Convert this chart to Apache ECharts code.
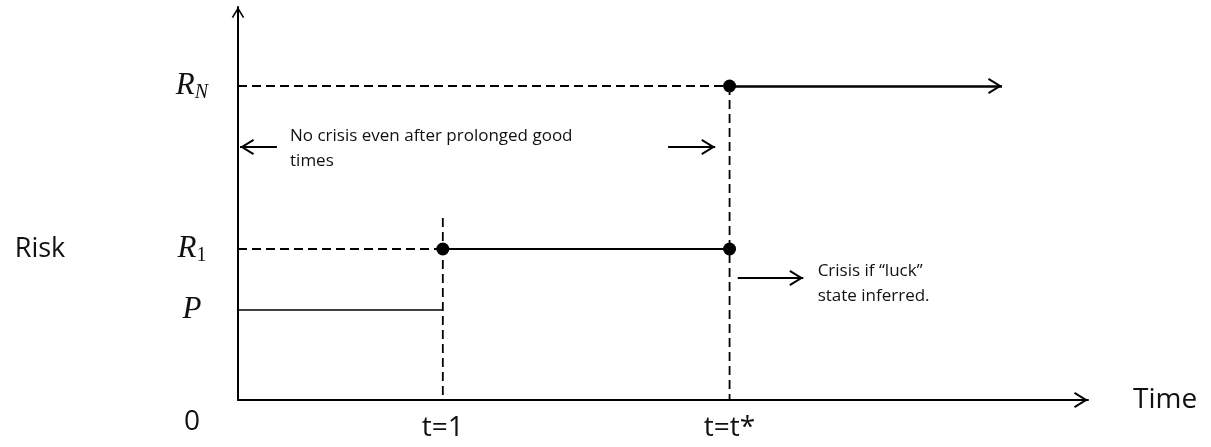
<!DOCTYPE html>
<html><head><meta charset="utf-8">
<script src="https://cdn.jsdelivr.net/npm/echarts@6/dist/echarts.min.js"></script>
<style>html,body{margin:0;padding:0;background:#fff}#c{width:1211px;height:447px}</style>
</head><body><div id="c"></div>
<script>
// ---- data (schematic units) ----
const xTicks = [1, 2.4];
const xTickLabels = ['t=1', 't=t*'];
const yLevels = [0, 90, 151, 314];
const yLevelLabels = ['{z|0}', '{r|P}', '{r|R}{su|1}', '{r|R}{si|N}'];
const xMax = 4.15;
const yMax = 393;
const pSegment = [[0, 90], [1, 90]];
const r1Segment = [[1, 151], [2.4, 151]];
const rnSegment = [[2.4, 314], [3.73, 314]];
const dashedSegments = [
  [[0, 314], [2.4, 314]],
  [[0, 151], [1, 151]],
  [[1, 182], [1, 0]],
  [[2.4, 314], [2.4, 0]]
];
const jumpPoints = [[1, 151], [2.4, 151], [2.4, 314]];
const arrowSegments = [
  [[0.19, 253], [0.01, 253]],
  [[2.1, 253], [2.33, 253]],
  [[2.44, 122], [2.76, 122]]
];
const noteTexts = ['No crisis even after prolonged good\ntimes', 'Crisis if \u201cluck\u201d\nstate inferred.', 'Risk'];
const noteAnchors = [[0.254, 251.5], [2.83, 116.5], [-1.09, 151]];

// ---- chart ----
const chevron = 'path://M-6,-14 M22,14 M8,0 L16,13 L14.3,14 L8,3.8 L1.7,14 L0,13 Z';
const serif = "'Liberation Serif', 'DejaVu Serif', serif";
const sans = "'Open Sans', sans-serif";
const chart = echarts.init(document.getElementById('c'), null, {renderer: 'canvas'});

const series = [];
series.push({type: 'line', data: pSegment, symbol: 'none', lineStyle: {color: '#000', width: 1.6, opacity: 1}, z: 2});
series.push({type: 'line', data: r1Segment, symbol: 'none', lineStyle: {color: '#000', width: 2.2, opacity: 1}, z: 2});
dashedSegments.forEach(seg => series.push({
  type: 'line', data: seg, symbol: 'none',
  lineStyle: {color: '#000', width: 1.8, type: [9, 5], opacity: 1}, z: 1
}));
series.push({
  type: 'lines', coordinateSystem: 'cartesian2d', polyline: false,
  symbol: ['none', chevron], symbolSize: 28,
  lineStyle: {color: '#000', width: 2, opacity: 1, curveness: 0},
  data: [{coords: rnSegment, lineStyle: {width: 2.6}}].concat(arrowSegments.map(c => ({coords: c}))),
  z: 2
});
series.push({
  type: 'scatter', data: jumpPoints, symbol: 'circle', symbolSize: 13,
  itemStyle: {color: '#000', opacity: 1}, z: 4
});
series.push({
  type: 'scatter', clip: false, symbolSize: 0, z: 5, silent: true,
  itemStyle: {color: '#000', opacity: 1},
  data: noteAnchors.map((p, i) => ({
    value: p,
    label: i === 2
      ? {fontSize: 27, lineHeight: 30}
      : {fontSize: 17, lineHeight: 25}
  })),
  label: {
    show: true, position: [0, 0], align: 'left', verticalAlign: 'middle',
    color: '#111', opacity: 1, fontFamily: sans,
    formatter: p => noteTexts[p.dataIndex]
  }
});

chart.setOption({
  animation: false,
  backgroundColor: '#fff',
  grid: {left: 238, right: 123, top: 7, bottom: 47, outerBoundsMode: 'none', containLabel: false},
  xAxis: {
    type: 'value', min: 0, max: xMax,
    axisLine: {show: true, onZero: false, symbol: ['none', chevron], symbolSize: [28, 28],
      lineStyle: {color: '#000', width: 2}},
    axisTick: {show: false}, splitLine: {show: false},
    axisLabel: {
      customValues: xTicks, margin: 14, fontSize: 28, color: '#111', fontFamily: sans,
      formatter: v => xTickLabels[xTicks.indexOf(v)]
    },
    name: 'Time', nameLocation: 'end', nameGap: 45,
    nameTextStyle: {fontSize: 28, color: '#111', fontFamily: sans, align: 'left', verticalAlign: 'middle'}
  },
  yAxis: {
    type: 'value', min: 0, max: yMax,
    axisLine: {show: true, onZero: false, symbol: ['none', chevron], symbolSize: [22, 22],
      lineStyle: {color: '#000', width: 2}},
    axisTick: {show: false}, splitLine: {show: false},
    axisLabel: {
      customValues: yLevels, margin: 46, align: 'center', color: '#111',
      formatter: v => yLevelLabels[yLevels.indexOf(v)],
      rich: {
        r: {fontFamily: serif, fontStyle: 'italic', fontSize: 31, color: '#111'},
        su: {fontFamily: serif, fontSize: 20, color: '#111', padding: [14, 0, 0, 0]},
        si: {fontFamily: serif, fontStyle: 'italic', fontSize: 20, color: '#111', padding: [14, 0, 0, 0]},
        z: {fontFamily: sans, fontSize: 28, color: '#111', padding: [44, 0, 0, 0]}
      }
    }
  },
  series: series
});
</script>
</body></html>
